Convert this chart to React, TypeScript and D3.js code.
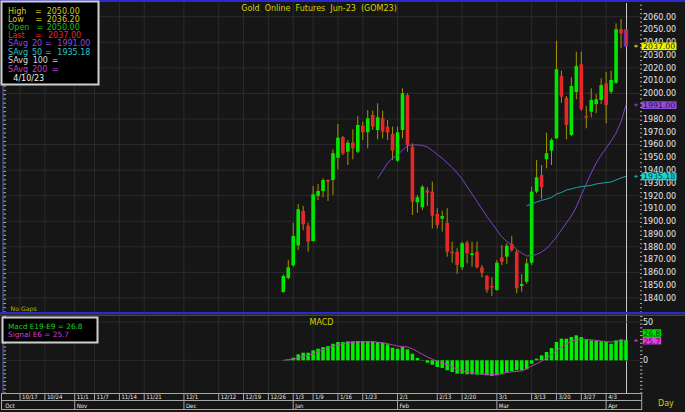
import React, { useEffect } from "react";
import * as d3 from "d3";

const W = 685;
const H = 412;

// ---- Daily OHLC, bar index 0..69 (12/29 .. 4/10) ----
const opens = [
  1844.7, 1855.6, 1865.6, 1881.2, 1908.0, 1896.5, 1884.6, 1919.8, 1923.7, 1932.3,
  1932.3, 1949.7, 1965.9, 1954.4, 1961.5, 1954.4, 1974.8, 1969.6, 1983.1, 1971.4,
  1980.5, 1974.0, 1968.3, 1947.4, 1971.4, 1998.8, 1958.3, 1914.8, 1910.9, 1924.0,
  1923.2, 1905.7, 1902.0, 1898.9, 1876.2, 1876.2, 1864.0, 1883.3, 1873.6, 1876.2,
  1864.0, 1857.2, 1849.4, 1846.3, 1871.8, 1872.3, 1882.2, 1876.2, 1849.4, 1852.7,
  1867.6, 1923.2, 1936.2, 1948.5, 1955.2, 1964.9, 2013.6, 1996.6, 1967.5, 2001.1,
  2022.8, 1982.3, 1985.7, 1991.7, 1994.9, 2007.9, 2001.3, 2008.4, 2050.2, 2050.0,
];
const highs = [
  1858.5, 1869.7, 1898.9, 1913.5, 1912.0, 1898.9, 1927.6, 1929.2, 1933.6, 1932.8,
  1956.3, 1976.1, 1966.7, 1963.6, 1971.9, 1982.3, 1977.9, 1987.0, 1986.5, 1992.3,
  1986.5, 1979.2, 1974.0, 1974.0, 2004.0, 2000.1, 1961.0, 1920.6, 1928.4, 1926.6,
  1931.0, 1910.2, 1908.3, 1910.2, 1884.0, 1878.9, 1884.0, 1884.8, 1884.0, 1884.0,
  1865.8, 1858.0, 1856.2, 1869.7, 1881.5, 1882.8, 1888.5, 1877.5, 1858.8, 1871.0,
  1927.0, 1947.9, 1944.0, 1969.3, 1964.9, 2041.2, 2017.8, 1997.9, 2012.6, 2032.6,
  2032.6, 1990.2, 2004.0, 1999.5, 2011.8, 2016.8, 2017.8, 2054.8, 2058.2, 2050.0,
];
const lows = [
  1844.1, 1854.6, 1864.5, 1877.5, 1893.2, 1876.2, 1884.0, 1916.6, 1918.8, 1915.9,
  1920.5, 1940.7, 1951.8, 1944.0, 1948.5, 1953.2, 1963.6, 1957.1, 1971.4, 1964.1,
  1964.9, 1963.6, 1947.9, 1946.6, 1964.9, 1954.4, 1904.9, 1906.7, 1908.8, 1912.0,
  1894.5, 1894.5, 1891.9, 1872.3, 1867.6, 1858.8, 1861.9, 1867.1, 1864.5, 1863.2,
  1856.2, 1844.1, 1841.6, 1845.7, 1865.8, 1866.6, 1876.2, 1843.7, 1844.9, 1851.0,
  1865.8, 1921.9, 1917.2, 1941.4, 1944.0, 1964.1, 1992.7, 1964.1, 1966.7, 1995.4,
  1986.5, 1972.7, 1981.3, 1984.5, 1991.7, 1976.6, 1999.9, 2007.4, 2035.3, 2036.2,
];
const closes = [
  1857.2, 1864.0, 1888.5, 1909.4, 1897.6, 1884.0, 1921.1, 1923.7, 1932.3, 1931.7,
  1953.2, 1965.4, 1953.2, 1961.5, 1957.1, 1975.3, 1969.6, 1980.5, 1974.0, 1981.3,
  1970.1, 1969.3, 1955.2, 1969.6, 2000.1, 1959.7, 1915.3, 1918.8, 1927.0, 1922.4,
  1904.4, 1897.1, 1904.1, 1876.2, 1875.0, 1865.8, 1882.8, 1875.0, 1875.0, 1864.0,
  1859.8, 1846.3, 1848.4, 1867.6, 1868.4, 1880.9, 1877.5, 1847.6, 1850.9, 1867.1,
  1923.2, 1934.4, 1926.6, 1953.2, 1963.6, 2018.9, 1997.4, 1975.3, 2005.8, 2021.5,
  1987.6, 1981.3, 1994.9, 1995.4, 2006.6, 1990.9, 2010.5, 2050.2, 2047.0, 2037.0,
];

// SAvg 20 (starts at bar 19), SAvg 50 (starts at bar 49)
const sma20Start = 19;
const sma20 = [
  1933.6, 1939.3, 1945.6, 1949.5, 1951.8, 1955.7, 1959.3, 1959.7, 1959.7, 1959.3,
  1958.1, 1955.4, 1952.2, 1949.3, 1945.6, 1942.1, 1937.8, 1933.1, 1927.2, 1921.3,
  1915.5, 1909.6, 1903.7, 1898.4, 1893.2, 1887.7, 1884.2, 1881.5, 1877.9, 1875.2,
  1872.8, 1873.2, 1874.0, 1876.0, 1878.7, 1883.0, 1887.7, 1893.2, 1898.7, 1904.1,
  1911.2, 1920.6, 1929.2, 1937.8, 1945.6, 1951.8, 1957.3, 1962.8, 1969.0, 1977.7,
  1991.0,
];
const sma50Start = 49;
const sma50 = [
  1912.2, 1913.5, 1915.1, 1916.3, 1917.4, 1918.6, 1921.3, 1922.5, 1924.5, 1925.3,
  1926.4, 1927.1, 1927.6, 1928.1, 1929.2, 1929.7, 1930.3, 1930.7, 1932.3, 1933.9,
  1935.18,
];

// MACD histogram and signal
const macd = [
  0, 1, 3.4, 7.8, 9.9, 9.9, 13, 15.1, 17.3, 18.6,
  21.6, 23.9, 23.9, 24.8, 24.8, 25.2, 25.2, 25.2, 24.8, 23.9,
  22.9, 20.9, 16.4, 15.1, 17.3, 14.3, 8.6, 3, 0.4, -3.1,
  -5.7, -8.7, -10, -13, -15.3, -17.4, -17.4, -18.3, -18.3, -18.7,
  -18.7, -19.6, -20.5, -19.6, -18.3, -16.1, -14.3, -13, -13, -11.8,
  -4.4, 2.1, 6.5, 10.8, 16, 23.9, 28.2, 28.2, 30.4, 32.6,
  30.4, 27.3, 26.1, 25.2, 24.8, 23.9, 21.6, 26.1, 27.3, 26.8,
];
const signal = [
  0, 0.8, 1.8, 3.2, 4.8, 6.5, 8.5, 11, 14, 16.5,
  18.7, 20.3, 21.7, 22.9, 23.4, 23.8, 24, 24, 24, 23.6,
  23, 21.8, 20.2, 18.6, 17.9, 17.3, 15, 11.5, 8, 4.3,
  1.5, -1.3, -3.5, -5.7, -8.5, -11.8, -14, -15.3, -16.3, -17.3,
  -18, -18.7, -18.8, -18.7, -17.5, -15.8, -15, -14.5, -14, -11,
  -7.5, -4.5, -1.3, 3, 7.3, 12.5, 17.3, 21.5, 24.8, 26.5,
  27.4, 27.2, 26.6, 26.1, 25.2, 24.2, 23.9, 24.8, 25.1, 25.7,
];

// Axis labels
const priceTicks = d3.range(1840, 2061, 10);
const priceGrid = d3.range(1840, 2061, 20);
const macdTicks = [50, 0];
const dayTicks: [string, number][] = [
  ["10/17", -53], ["10/24", -48], ["11/1", -42], ["11/7", -38], ["11/14", -33],
  ["11/21", -28], ["12/1", -20], ["12/12", -13], ["12/19", -8], ["12/26", -3],
  ["1/3", 2], ["1/9", 6], ["1/16", 11], ["1/23", 16], ["2/1", 23], ["2/13", 31],
  ["2/20", 36], ["3/1", 43], ["3/13", 50], ["3/20", 55], ["3/27", 60], ["4/3", 65],
];
const monthTicks: [string, number][] = [
  ["Oct", -56.4], ["Nov", -42], ["Dec", -20], ["Jan", 2], ["Feb", 23], ["Mar", 43], ["Apr", 65],
];
const title = "Gold  Online  Futures  Jun-23  (GOM23)";

const FONT = "DejaVu Sans, Verdana, sans-serif";
const SMALL = "Liberation Sans Narrow, DejaVu Sans Condensed, Liberation Sans, Arial, sans-serif";

const C = {
  bg: "#161616",
  grid: "#2b2b2b",
  up: "#00e800",
  down: "#e82828",
  wick: "#a39600",
  ma20: "#7d42cc",
  ma50: "#1aa6a6",
  sig: "#b83cb8",
  bar: "#00f000",
  blue: "#2a2ad0",
  frame: "#a8a8a8",
  text: "#e6e6e6",
  yellow: "#d2d200",
};

export default function App() {
  useEffect(() => {
    document.body.style.margin = "0";
    document.body.style.background = "#161616";
  }, []);

  const n = closes.length;
  const x = d3.scaleLinear().domain([0, n - 1]).range([283.3, 626]);
  const y = d3.scaleLinear().domain([1840, 2060]).range([298, 16.7]);
  const ym = d3.scaleLinear().domain([0, 50]).range([360.3, 322]);

  const plotL = 4, plotR = 640;
  const mainT = 2, mainB = 312, macdT = 316, macdB = 393;

  const line20 = d3.line<number>().x((_, i) => x(i + sma20Start)).y((d) => y(d))(sma20) || "";
  const line50 = d3.line<number>().x((_, i) => x(i + sma50Start)).y((d) => y(d))(sma50) || "";
  const lineSig = d3.line<number>().x((_, i) => x(i)).y((d) => ym(d))(signal) || "";

  const bodyW = 3.6;
  const last = n - 1;

  const rulerMain = d3.range(y.invert(mainB), y.invert(mainT), 10 / 3);
  const rulerMacd = d3.range(ym.invert(macdB), ym.invert(macdT), 5);
  const rightMinor = d3.range(y.invert(mainB), y.invert(mainT), 10 / 3);

  const fmt = (v: number) => v.toFixed(2);

  const legendRows: { label: string; eqX: number; valX: number; color: string; value: string }[] = [
    { label: "High", eqX: 35, valX: 46.7, color: "#d4cc1a", value: fmt(highs[last]) },
    { label: "Low", eqX: 35.5, valX: 46.7, color: "#d4cc1a", value: fmt(lows[last]) },
    { label: "Open", eqX: 36.5, valX: 46.7, color: "#10c010", value: fmt(opens[last]) },
    { label: "Last", eqX: 35, valX: 48, color: "#e02828", value: fmt(closes[last]) },
  ];

  const flags = [
    { v: closes[last], bg: "#f2f200", fg: "#202000", mk: "#d8d800" },
    { v: sma20[sma20.length - 1], bg: "#9050d8", fg: "#2a0a50", mk: C.ma20 },
    { v: sma50[sma50.length - 1], bg: "#18d4d4", fg: "#003c3c", mk: C.ma50 },
  ];

  return (
    <svg
      width={W}
      height={H}
      viewBox={`0 0 ${W} ${H}`}
      style={{ position: "absolute", left: 0, top: 0, display: "block", background: C.bg }}
      fontFamily={FONT}
    >
      <rect x={0} y={0} width={W} height={H} fill={C.bg} />

      {/* ===== MAIN PANEL ===== */}
      <line x1={0} x2={W} y1={1} y2={1} stroke={C.blue} strokeWidth={2} />
      {priceGrid.map((p) => (
        <line key={"hg" + p} x1={plotL} x2={plotR} y1={y(p)} y2={y(p)} stroke={C.grid} strokeWidth={1} />
      ))}
      {dayTicks.map(([lab, k]) => (
        <line key={"vg" + lab} x1={x(k)} x2={x(k)} y1={mainT} y2={mainB} stroke={C.grid} strokeWidth={1} />
      ))}
      {dayTicks.map(([lab, k]) => (
        <line key={"vgm" + lab} x1={x(k)} x2={x(k)} y1={macdT} y2={macdB} stroke={C.grid} strokeWidth={1} />
      ))}
      <text x={319} y={11} textAnchor="middle" fontSize={8} fill={C.yellow} style={{ whiteSpace: "pre" }}>
        {title}
      </text>

      <line x1={x(last) + 0.5} x2={x(last) + 0.5} y1={3} y2={macdB} stroke="#c8c8c8" strokeWidth={1} />

      {closes.map((c, i) => {
        const o = opens[i];
        const up = c >= o;
        const top = y(Math.max(o, c));
        const h = Math.max(1.6, Math.abs(y(o) - y(c)));
        return (
          <g key={"c" + i}>
            <line x1={x(i)} x2={x(i)} y1={y(highs[i])} y2={y(lows[i])} stroke={C.wick} strokeWidth={1} />
            <rect
              x={x(i) - bodyW / 2}
              y={top}
              width={bodyW}
              height={h}
              fill={up ? C.up : C.down}
              stroke={i === last ? "#3a3aff" : "none"}
              strokeWidth={i === last ? 0.8 : 0}
            />
          </g>
        );
      })}

      <path d={line20} fill="none" stroke={C.ma20} strokeWidth={1} />
      <path d={line50} fill="none" stroke={C.ma50} strokeWidth={1} />

      <line x1={3} x2={3} y1={mainT} y2={mainB} stroke="#5060d0" strokeWidth={1} />
      {rulerMain.map((p, i) => (
        <line key={"rl" + i} x1={3.5} x2={6} y1={y(p)} y2={y(p)} stroke="#d8d8d8" strokeWidth={0.8} />
      ))}

      {rightMinor.map((p, i) => {
        const major = Math.abs(p / 10 - Math.round(p / 10)) < 0.01;
        return (
          <line key={"rt" + i} x1={plotR} x2={plotR + (major ? 3.5 : 2)} y1={y(p)} y2={y(p)} stroke="#d0d0d0" strokeWidth={0.8} />
        );
      })}
      {priceTicks.map((p) => (
        <text key={"pt" + p} x={643} y={y(p) + 2.8} fontSize={8} fill={C.text}>
          {fmt(p)}
        </text>
      ))}
      {flags.map((f, i) => (
        <g key={"fl" + i}>
          <rect x={641.5} y={y(f.v) - 3.6} width={35} height={7.6} fill={f.bg} />
          <text x={643} y={y(f.v) + 2.9} fontSize={7.8} fill={f.fg}>{fmt(f.v)}</text>
          <g stroke={f.mk} strokeWidth={1}>
            <line x1={634} x2={638} y1={y(f.v)} y2={y(f.v)} />
            <line x1={636} x2={636} y1={y(f.v) - 1.5} y2={y(f.v) + 1.5} />
          </g>
        </g>
      ))}

      <text x={10.5} y={311} fontSize={6.2} fill="#b4b400">No Gaps</text>

      {/* main legend */}
      <rect x={1.5} y={1.5} width={97} height={83} fill="#000" stroke="#cfcfcf" strokeWidth={2} />
      {legendRows.map((r, i) => (
        <g key={"lg" + i} fontSize={8} fill={r.color}>
          <text x={8} y={14 + i * 7.9}>{r.label}</text>
          <text x={r.eqX} y={14 + i * 7.9}>=</text>
          <text x={r.valX} y={14 + i * 7.9}>{r.value}</text>
        </g>
      ))}
      <g fontSize={8} fill="#8a4ae6">
        <text x={8} y={46}>SAvg</text>
        <text x={32} y={46}>20</text>
        <text x={45} y={46}>=</text>
        <text x={57.3} y={46}>{fmt(sma20[sma20.length - 1])}</text>
      </g>
      <g fontSize={8} fill="#2ec4c4">
        <text x={8} y={54.7}>SAvg</text>
        <text x={32} y={54.7}>50</text>
        <text x={45} y={54.7}>=</text>
        <text x={57.3} y={54.7}>{fmt(sma50[sma50.length - 1])}</text>
      </g>
      <g fontSize={8} fill="#d8d8d8">
        <text x={8} y={63.3}>SAvg</text>
        <text x={32.7} y={63.3}>100</text>
        <text x={51.7} y={63.3}>=</text>
      </g>
      <g fontSize={8} fill="#c040d0">
        <text x={8} y={71.8}>SAvg</text>
        <text x={32} y={71.8}>200</text>
        <text x={51.7} y={71.8}>=</text>
      </g>
      <text x={13.3} y={80.6} fontSize={8} fill="#f0f0f0">4/10/23</text>

      <line x1={0} x2={W} y1={313} y2={313} stroke={C.blue} strokeWidth={2} />
      <line x1={0} x2={W} y1={315.2} y2={315.2} stroke="#6a6a6a" strokeWidth={0.8} />

      {/* ===== MACD PANEL ===== */}
      {macdTicks.map((t) => (
        <line key={"mg" + t} x1={plotL} x2={plotR} y1={ym(t)} y2={ym(t)} stroke={C.grid} strokeWidth={1} />
      ))}
      <text x={321.5} y={324.6} textAnchor="middle" fontSize={8} fill={C.yellow}>MACD</text>
      {macd.map((v, i) => (
        <rect
          key={"mb" + i}
          x={x(i) - 1.75}
          y={Math.min(ym(v), ym(0))}
          width={3.5}
          height={Math.abs(ym(v) - ym(0))}
          fill={C.bar}
        />
      ))}
      <path d={lineSig} fill="none" stroke={C.sig} strokeWidth={1} />

      <line x1={3} x2={3} y1={macdT} y2={macdB} stroke="#5060d0" strokeWidth={1} />
      {rulerMacd.map((p, i) => (
        <line key={"rm" + i} x1={3.5} x2={6} y1={ym(p)} y2={ym(p)} stroke="#d8d8d8" strokeWidth={0.8} />
      ))}
      {rulerMacd.map((p, i) => (
        <line key={"rmr" + i} x1={plotR} x2={plotR + 2.5} y1={ym(p)} y2={ym(p)} stroke="#d0d0d0" strokeWidth={0.8} />
      ))}
      {macdTicks.map((t) => (
        <text key={"mt" + t} x={643} y={ym(t) + 3} fontSize={8} fill={C.text}>{t}</text>
      ))}
      <rect x={642.7} y={329.3} width={18.5} height={7.4} fill="#00e000" />
      <text x={643.5} y={335.8} fontSize={7.5} fill="#003000">{macd[last].toFixed(1)}</text>
      <rect x={642.7} y={337} width={18.5} height={7.4} fill="#e040e0" />
      <text x={643.5} y={343.5} fontSize={7.5} fill="#500050">{signal[last].toFixed(1)}</text>
      <g stroke={C.sig} strokeWidth={1}>
        <line x1={634} x2={638} y1={ym(signal[last])} y2={ym(signal[last])} />
        <line x1={636} x2={636} y1={ym(signal[last]) - 1.5} y2={ym(signal[last]) + 1.5} />
      </g>

      <rect x={2.5} y={317.5} width={95} height={25} fill="#000" stroke="#cfcfcf" strokeWidth={2} />
      <text x={8} y={328.5} fontSize={7.3} fill="#20d020">{`Macd E19-E9 = ${macd[last].toFixed(1)}`}</text>
      <text x={8} y={337} fontSize={7.3} fill="#d040d0">{`Signal E6 = ${signal[last].toFixed(1)}`}</text>

      {/* ===== DATE AXIS ===== */}
      <rect x={1.5} y={393.5} width={640.2} height={16} fill="#151515" stroke={C.frame} strokeWidth={1} />
      <line x1={1.5} x2={641.7} y1={400.5} y2={400.5} stroke={C.frame} strokeWidth={1} />
      {dayTicks.map(([lab, k]) => (
        <g key={"dt" + lab}>
          <line x1={x(k)} x2={x(k)} y1={393.5} y2={400.5} stroke={C.frame} strokeWidth={1} />
          <text x={x(k) + 2} y={399.4} fontSize={6} fontFamily={SMALL} fill={C.text}>{lab}</text>
        </g>
      ))}
      {monthTicks.map(([lab, k], i) => (
        <g key={"mo" + lab}>
          {i > 0 && <line x1={x(k)} x2={x(k)} y1={400.5} y2={409.5} stroke={C.frame} strokeWidth={1} />}
          <text x={x(k) + 2} y={407.8} fontSize={6} fontFamily={SMALL} fill={C.text}>{lab}</text>
        </g>
      ))}
      <text x={658} y={406} fontSize={8} fill={C.yellow}>Day</text>
    </svg>
  );
}
